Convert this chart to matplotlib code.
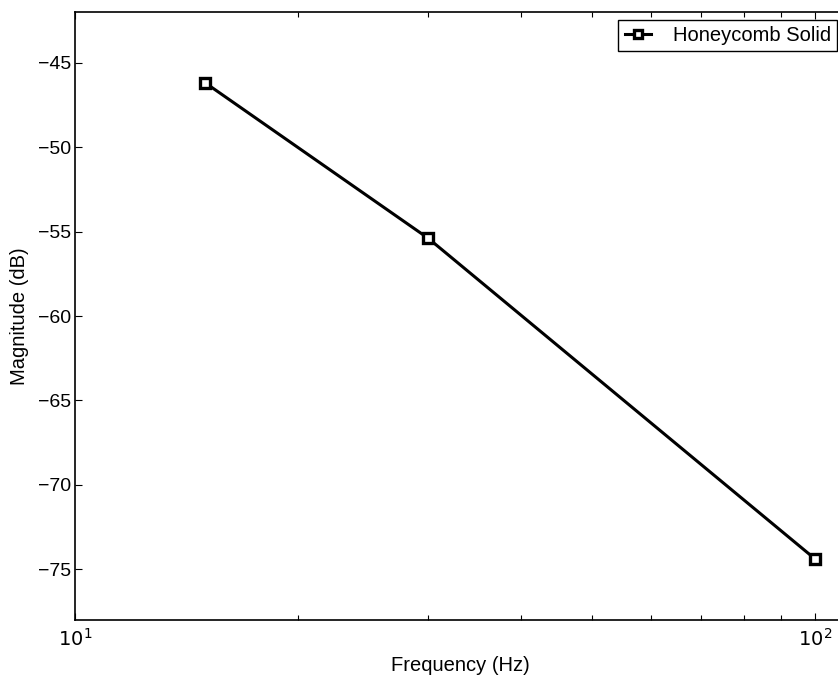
import numpy as np
import matplotlib
matplotlib.use('Agg')
import matplotlib.pyplot as plt
from matplotlib.ticker import LogLocator, FixedLocator

plt.rcParams['font.family'] = ['Liberation Sans', 'DejaVu Sans']

# data
freq = [15, 30, 100]               # Hz
magnitude = [-46.2, -55.4, -74.4]  # dB
yticks = [-75, -70, -65, -60, -55, -50, -45]

fig = plt.figure(figsize=(8.38, 6.75), dpi=100)
ax = fig.add_axes([75 / 838, 55 / 675, 771 / 838, 608 / 675])

ax.semilogx(freq, magnitude, color='black', lw=2.2, marker='s', ms=6.5,
            mfc='white', mec='black', mew=2.4, label='Honeycomb Solid')

ax.set_xlim(10, 110)
ax.set_ylim(-78, -42)
ax.xaxis.set_major_locator(FixedLocator([10, 100]))
ax.xaxis.set_minor_locator(LogLocator(base=10, subs=np.arange(2, 10)))
ax.set_xticklabels([r'$10^1$', r'$10^2$'])
ax.yaxis.set_major_locator(FixedLocator(yticks))
ax.set_yticklabels([f'\u2212{abs(v)}' for v in yticks])

ax.tick_params(which='both', direction='in', top=True, right=True,
               labelsize=14)
ax.tick_params(axis='y', pad=3)
ax.tick_params(axis='x', pad=6)
ax.tick_params(which='major', length=5, width=0.8)
ax.tick_params(which='minor', length=3.5, width=0.8)
for s in ax.spines.values():
    s.set_linewidth(1.2)

ax.set_xlabel('Frequency (Hz)', fontsize=14.5, labelpad=4)
ax.set_ylabel('Magnitude (dB)', fontsize=14.5, labelpad=6)

leg = ax.legend(loc='upper right', bbox_to_anchor=(837 / 838, 655 / 675),
                bbox_transform=fig.transFigure, fontsize=14.5, fancybox=False,
                edgecolor='black', framealpha=1, handlelength=1.3,
                handletextpad=1.1, borderpad=0.3, borderaxespad=0,
                markerscale=0.8)
leg.get_frame().set_linewidth(1.0)

fig.savefig('out.png', dpi=100)
